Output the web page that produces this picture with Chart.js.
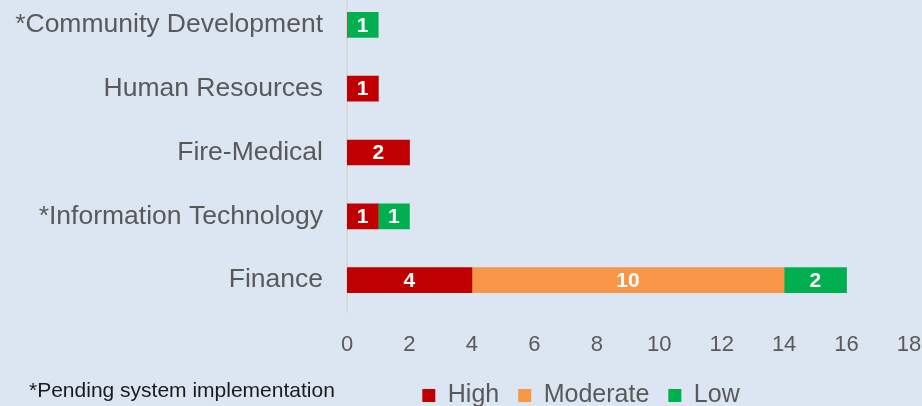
<!DOCTYPE html>
<html><head><meta charset="utf-8">
<script src="https://cdn.jsdelivr.net/npm/chart.js@4/dist/chart.umd.min.js"></script>
<style>
html,body{margin:0;padding:0;background:#dce6f2;}
#wrap{position:relative;width:922px;height:406px;background:#dce6f2;overflow:hidden;}
#note{position:absolute;left:29px;top:378px;font:21px "Liberation Sans",Arial,sans-serif;color:#1a1a1a;white-space:nowrap;}
</style></head><body>
<div id="wrap"><canvas id="c" width="922" height="406"></canvas><div id="note">*Pending system implementation</div></div>
<script>
const categories = ['*Community Development','Human Resources','Fire-Medical','*Information Technology','Finance'];
const seriesNames = ['High','Moderate','Low'];
const highValues = [0,1,2,1,4];
const moderateValues = [0,0,0,0,10];
const lowValues = [1,0,0,1,2];
const xTicks = [0,2,4,6,8,10,12,14,16,18];
const seriesColors = ['#c00000','#f79646','#00b050'];

const FONT = '"Liberation Sans", Arial, sans-serif';

const barLabels = {
  id: 'barLabels',
  afterDatasetsDraw(chart) {
    const ctx = chart.ctx;
    ctx.save();
    ctx.font = 'bold 21px ' + FONT;
    ctx.fillStyle = '#ffffff';
    ctx.textAlign = 'center';
    ctx.textBaseline = 'middle';
    chart.data.datasets.forEach((ds, i) => {
      const meta = chart.getDatasetMeta(i);
      if (meta.hidden) return;
      meta.data.forEach((el, j) => {
        const v = ds.data[j];
        if (!v) return;
        const p = el.getProps(['x', 'base', 'y'], true);
        ctx.fillText(String(v), (p.x + p.base) / 2, p.y + 1);
      });
    });
    ctx.restore();
  }
};

const shiftTop = {
  id: 'shiftTop',
  afterLayout(chart) {
    const y = chart.scales.y;
    y.top -= 7;
    y.left = 0;
    y.height = y.bottom - y.top;
    y.configure();
  }
};

new Chart(document.getElementById('c'), {
  type: 'bar',
  data: {
    labels: categories,
    datasets: [
      { label: seriesNames[0], data: highValues, backgroundColor: seriesColors[0] },
      { label: seriesNames[1], data: moderateValues, backgroundColor: seriesColors[1] },
      { label: seriesNames[2], data: lowValues, backgroundColor: seriesColors[2] }
    ]
  },
  options: {
    indexAxis: 'y',
    responsive: false,
    animation: false,
    barThickness: 25,
    borderWidth: 0,
    layout: { padding: { left: 253, right: 13, top: 0, bottom: -12 } },
    scales: {
      x: {
        stacked: true,
        min: xTicks[0],
        max: xTicks[xTicks.length - 1],
        grid: { display: false, drawTicks: false },
        border: { display: false },
        ticks: { stepSize: xTicks[1] - xTicks[0], color: '#595959', font: { family: FONT, size: 22 }, padding: 20 },
        afterFit(s) { s.height = 52; s.paddingLeft = 0; s.paddingRight = 13; }
      },
      y: {
        stacked: true,
        grid: { display: false, drawTicks: false },
        border: { display: true, color: '#d9d9d9', width: 2 },
        ticks: { color: '#595959', font: { family: FONT, size: 26.5 }, padding: 24 },
        afterFit(s) { s.width = 94; s.paddingTop = 0; s.paddingBottom = 0; }
      }
    },
    plugins: {
      legend: {
        position: 'bottom',
        labels: { color: '#595959', font: { family: FONT, size: 25 }, boxWidth: 13, boxHeight: 13, padding: 19 }
      },
      tooltip: { enabled: false }
    }
  },
  plugins: [barLabels, shiftTop]
});
</script>
</body></html>
